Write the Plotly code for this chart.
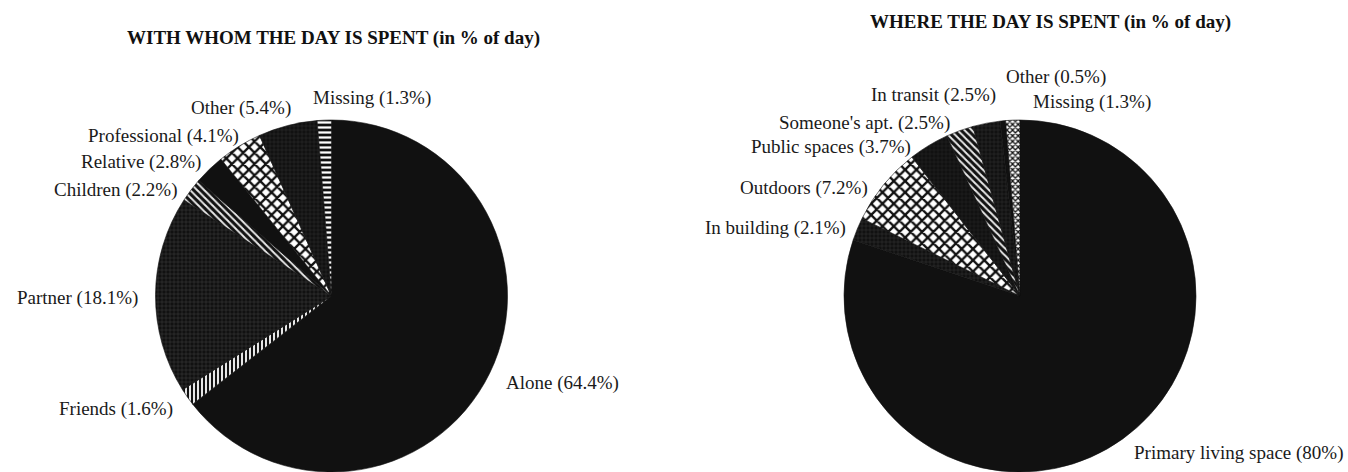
import plotly.graph_objects as go

# ---- data ----
left_title = "WITH WHOM THE DAY IS SPENT (in % of day)"
left_labels = ["Alone", "Friends", "Partner", "Children", "Relative",
               "Professional", "Other", "Missing"]
left_values = [64.4, 1.6, 18.1, 2.2, 2.8, 4.1, 5.4, 1.3]

right_title = "WHERE THE DAY IS SPENT (in % of day)"
right_labels = ["Primary living space", "In building", "Outdoors", "Public spaces",
                "Someone's apt.", "In transit", "Other", "Missing"]
right_values = [80, 2.1, 7.2, 3.7, 2.5, 2.5, 0.5, 1.3]

# ---- layout / styles (pixels from top-left of the 1348x472 page) ----
W, H = 1348, 472
BLACK = "#111111"
FONT = "Liberation Serif"
LABEL_SIZE = 19
TITLE_SIZE = 19

# label anchor points (left edge x, vertical centre y) per slice
left_label_pos = [(504, 383), (57, 409), (15, 298), (52, 190), (79, 162),
                  (86, 136), (189, 108), (311, 98)]
right_label_pos = [(1132, 453), (703, 228), (738, 188), (749, 147),
                   (777, 123), (869, 95), (1004, 77), (1031, 102)]

left_pattern = dict(
    shape=["", "|", "+", "\\", "", "x", "+", "-"],
    fgcolor=[BLACK, "#ffffff", "#3c3c3c", "#e8e8e8", BLACK, BLACK, "#2c2c2c", "#ffffff"],
    bgcolor=[BLACK, BLACK, BLACK, BLACK, BLACK, "#ffffff", BLACK, BLACK],
    size=[6, 4, 4, 5, 6, 8, 4, 5],
    solidity=[0.3, 0.45, 0.25, 0.4, 0.3, 0.5, 0.25, 0.45],
    fillmode="replace",
)
right_pattern = dict(
    shape=["", "+", "x", "+", "\\", "+", "", "x"],
    fgcolor=[BLACK, "#353535", BLACK, "#262626", "#e8e8e8", "#303030", BLACK, BLACK],
    bgcolor=[BLACK, BLACK, "#ffffff", BLACK, BLACK, BLACK, BLACK, "#ffffff"],
    size=[6, 4, 8, 4, 5, 4, 6, 4],
    solidity=[0.3, 0.25, 0.5, 0.25, 0.4, 0.25, 0.3, 0.55],
    fillmode="replace",
)

R = 176  # pie radius in px


def dom(cx, cy_top):
    cy = (H - cy_top) / H
    return dict(x=[(cx - R) / W, (cx + R) / W],
                y=[max(0.0, cy - R / H), min(1.0, cy + R / H)])


def fmt(v):
    return f"{v:g}"


fig = go.Figure()
for labels, values, pattern, (cx, cy) in [
    (left_labels, left_values, left_pattern, (331.5, 296)),
    (right_labels, right_values, right_pattern, (1020, 296)),
]:
    fig.add_trace(go.Pie(
        labels=labels,
        values=values,
        sort=False,
        direction="clockwise",
        rotation=0,
        domain=dom(cx, cy),
        marker=dict(colors=[BLACK] * len(values),
                    line=dict(color=BLACK, width=0.6),
                    pattern=pattern),
        textinfo="none",
        hoverinfo="label+value",
        showlegend=False,
        automargin=False,
    ))

for labels, values, positions in [
    (left_labels, left_values, left_label_pos),
    (right_labels, right_values, right_label_pos),
]:
    for lab, val, (px, py) in zip(labels, values, positions):
        fig.add_annotation(text=f"{lab} ({fmt(val)}%)",
                           x=px / W, y=(H - py) / H, xref="paper", yref="paper",
                           xanchor="left", yanchor="middle", showarrow=False,
                           font=dict(family=FONT, size=LABEL_SIZE, color="#1a1a1a"))

fig.add_annotation(text="<b>" + left_title + "</b>", x=333 / W, y=(H - 38) / H,
                   xref="paper", yref="paper", xanchor="center", yanchor="middle",
                   showarrow=False,
                   font=dict(family=FONT, size=TITLE_SIZE, color="#111"))
fig.add_annotation(text="<b>" + right_title + "</b>", x=1050 / W, y=(H - 22) / H,
                   xref="paper", yref="paper", xanchor="center", yanchor="middle",
                   showarrow=False,
                   font=dict(family=FONT, size=TITLE_SIZE, color="#111"))

fig.update_layout(width=W, height=H, margin=dict(l=0, r=0, t=0, b=0),
                  paper_bgcolor="white", plot_bgcolor="white", showlegend=False)

fig.write_html("out.html")
